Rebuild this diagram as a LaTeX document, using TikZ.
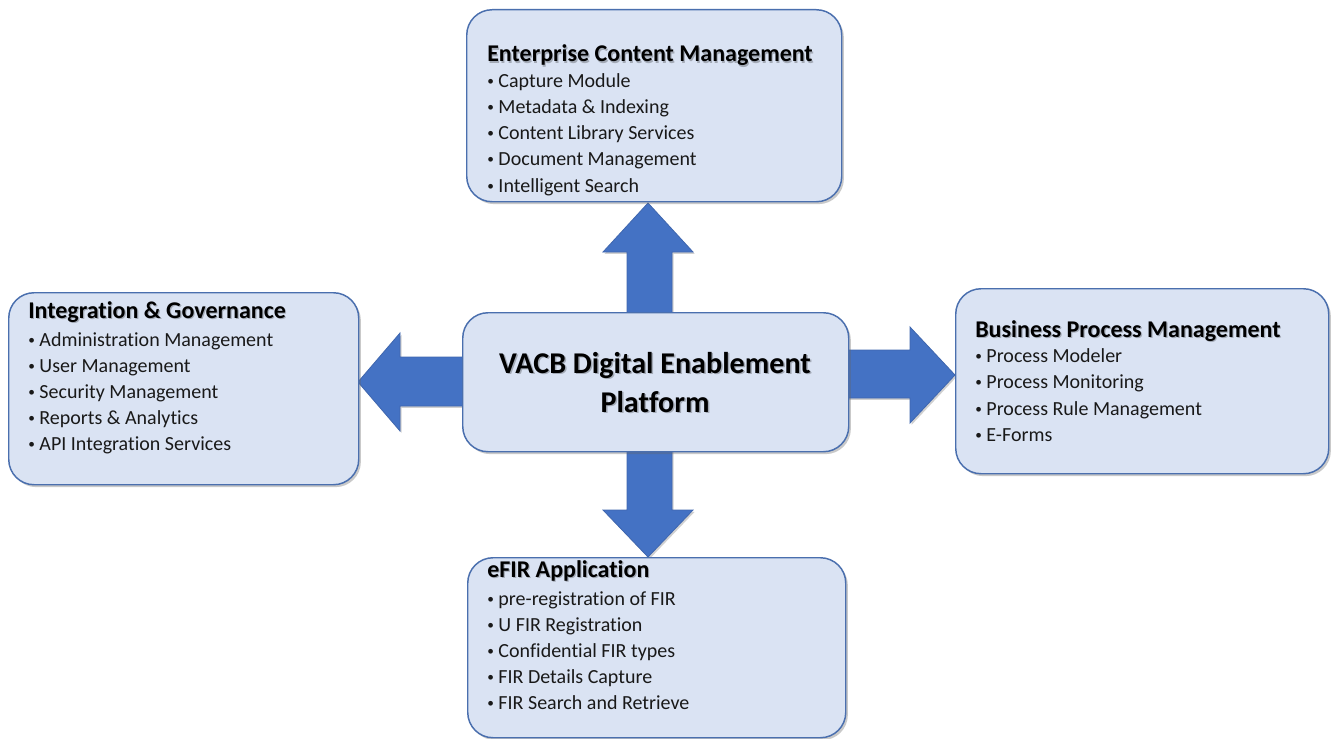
\documentclass[tikz,border=0pt]{standalone}
\usepackage{fontspec}
\setmainfont{Carlito}[Ligatures=NoCommon]
\usetikzlibrary{shadows}
\definecolor{boxfill}{HTML}{DAE3F3}
\definecolor{boxline}{HTML}{4A6FAE}
\definecolor{arrfill}{HTML}{4472C4}
\definecolor{arrline}{HTML}{3F66AE}
\tikzset{
  box/.style={draw=boxline, line width=1.1pt, fill=boxfill, rounded corners=19pt,
    anchor=north west, inner sep=0pt,
    drop shadow={shadow xshift=1.6pt, shadow yshift=-1.8pt, opacity=0.35, fill=black!60}},
  blockarrow/.style={fill=arrfill, draw=arrline, line width=0.6pt,
    drop shadow={shadow xshift=1.2pt, shadow yshift=-1.4pt, opacity=0.3, fill=black!60}},
  ttl/.style={anchor=base west, inner sep=0pt, font=\fontsize{18}{21}\selectfont\bfseries, text=black},
  ttlshadow/.style={anchor=base west, inner sep=0pt, font=\fontsize{18}{21}\selectfont\bfseries, text=black, opacity=0.25},
  itm/.style={anchor=base west, inner sep=0pt, font=\fontsize{15}{18}\selectfont, text=black!90},
  ctr/.style={anchor=base, inner sep=0pt, font=\fontsize{22.6}{26}\selectfont\bfseries, text=black},
  ctrshadow/.style={anchor=base, inner sep=0pt, font=\fontsize{22.6}{26}\selectfont\bfseries, text=black, opacity=0.25},
}
\newcommand{\bul}{\makebox[8.4pt][l]{\raisebox{0.2ex}{\fontsize{10}{10}\selectfont\textbullet}}}
\begin{document}
\begin{tikzpicture}[x=0.75pt, y=-0.75pt]
\useasboundingbox (0,0) rectangle (1333,738);
\fill[white] (0,0) rectangle (1333,738);

% block arrows
\draw[blockarrow] (627,318) -- (627,252) -- (603,252) -- (648,203) -- (693,252) -- (672,252) -- (672,318) -- cycle;
\draw[blockarrow] (627,446) -- (627,510) -- (603,510) -- (648,557) -- (693,510) -- (672,510) -- (672,446) -- cycle;
\draw[blockarrow] (468,357) -- (400,357) -- (400,333) -- (358,382) -- (400,431) -- (400,406) -- (468,406) -- cycle;
\draw[blockarrow] (842,350) -- (910,350) -- (910,327) -- (955,375) -- (910,423) -- (910,398) -- (842,398) -- cycle;

% boxes
\node[box, minimum width=281.25pt, minimum height=144pt] (ecm) at (466,9) {};
\node[box, minimum width=262.5pt, minimum height=144pt] (ig) at (8,292) {};
\node[box, minimum width=289.5pt, minimum height=104.25pt] (plat) at (462,312) {};
\node[box, minimum width=279.75pt, minimum height=138.75pt] (bpm) at (955,288) {};
\node[box, minimum width=283.5pt, minimum height=135pt] (efir) at (467,557) {};

% centre text
\node[ctrshadow] (c1s) at (656.5,374.5) {VACB Digital Enablement};
\node[ctr] (c1) at (655,373) {VACB Digital Enablement};
\node[ctrshadow] (c2s) at (656.5,413.5) {Platform};
\node[ctr] (c2) at (655,412) {Platform};

% titles
\node[ttlshadow] (ecmts) at (488.2,63.2) {Enterprise Content Management};
\node[ttl] (ecmt) at (487,62) {Enterprise Content Management};
\node[ttlshadow] (igts) at (29.2,319.2) {Integration \& Governance};
\node[ttl] (igt) at (28,318) {Integration \& Governance};
\node[ttlshadow] (bpmts) at (976.2,338.2) {Business Process Management};
\node[ttl] (bpmt) at (975,337) {Business Process Management};
\node[ttlshadow] (efirts) at (488.2,578.2) {eFIR Application};
\node[ttl] (efirt) at (487,577) {eFIR Application};

% items
\foreach \t [count=\i] in {Capture Module, Metadata \& Indexing, Content Library Services, Document Management, Intelligent Search}
  \node[itm] (ecm-\i) at (487,61+26.2*\i) {\bul\t};
\foreach \t [count=\i] in {Administration Management, User Management, Security Management, Reports \& Analytics, API Integration Services}
  \node[itm] (ig-\i) at (28,321+25.8*\i) {\bul\t};
\foreach \t [count=\i] in {Process Modeler, Process Monitoring, Process Rule Management, E-Forms}
  \node[itm] (bpm-\i) at (975,336+26.4*\i) {\bul\t};
\foreach \t [count=\i] in {pre-registration of FIR, U FIR Registration, Confidential FIR types, FIR Details Capture, FIR Search and Retrieve}
  \node[itm] (efir-\i) at (487,580+25.8*\i) {\bul\t};
\end{tikzpicture}
\end{document}
